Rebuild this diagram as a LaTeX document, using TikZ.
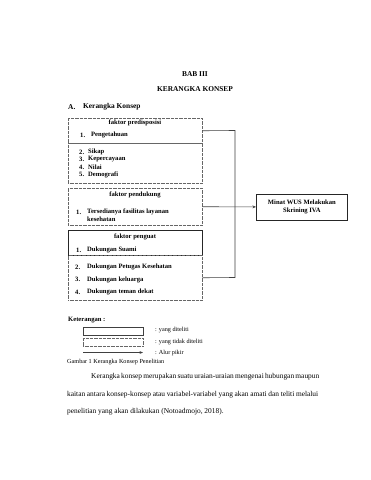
\documentclass[tikz,border=0pt]{standalone}
\usepackage{fontspec}
\setmainfont{Liberation Serif}
\usetikzlibrary{arrows.meta}
\tikzset{
  dbox/.style={draw=black!60, line width=0.5pt, dash pattern=on 0.7pt off 0.6pt, minimum width=134pt, anchor=north west, inner sep=0pt},
  sbox/.style={draw=black!85, line width=1.1pt, minimum width=134pt, anchor=north west, inner sep=0pt},
  tbox/.style={draw=black!85, line width=0.8pt, anchor=north west, inner sep=0pt},
  conn/.style={draw=black!75, line width=0.6pt},
  btxt/.style={font=\fontsize{6.6}{7.5}\selectfont\bfseries, inner sep=0pt},
  lt/.style={btxt, anchor=west},
  body/.style={font=\fontsize{7.4}{9}\selectfont, inner sep=0pt, anchor=west},
  small/.style={font=\fontsize{6.2}{7.5}\selectfont, inner sep=0pt, anchor=west},
}
\begin{document}
\begin{tikzpicture}[x=1pt,y=-1pt]
\useasboundingbox[fill=white] (0,0) rectangle (371,480);
% titles
\node[font=\fontsize{7.4}{9}\selectfont\bfseries, inner sep=0pt] (bab) at (195,74) {BAB III};
\node[font=\fontsize{7.4}{9}\selectfont\bfseries, inner sep=0pt] (kk) at (195,89) {KERANGKA KONSEP};
\node[body, font=\fontsize{7.4}{9}\selectfont\bfseries] (A) at (68,107) {A.};
\node[body, font=\fontsize{7.4}{9}\selectfont\bfseries] (Akk) at (83,107) {Kerangka Konsep};
% box 1
\node[dbox, minimum height=25pt] (b1a) at (68,118) {};
\node[dbox, minimum height=40pt] (b1b) at (68,143) {};
\node[btxt] (h1) at (135,123) {faktor predisposisi};
\node[lt] (n11) at (80,135) {1.};
\node[lt] (t11) at (91,135) {Pengetahuan};
\node[lt] (n12) at (79,152) {2.};
\node[lt] (t12) at (88,152) {Sikap};
\node[lt] (n13) at (79,159.5) {3.};
\node[lt] (t13) at (88,159.5) {Kepercayaan};
\node[lt] (n14) at (79,167) {4.};
\node[lt] (t14) at (88,167) {Nilai};
\node[lt] (n15) at (79,174.5) {5.};
\node[lt] (t15) at (88,174.5) {Demografi};
% box 2
\node[dbox, minimum height=37pt] (b2) at (68,188) {};
\node[btxt] (h2) at (135,195) {faktor pendukung};
\node[lt] (n21) at (76,212) {1.};
\node[lt] (t21) at (87,212) {Tersedianya fasilitas layanan};
\node[lt] (t21b) at (87,219.5) {kesehatan};
% box 3
\node[sbox, minimum height=25pt] (b3a) at (68,230) {};
\node[dbox, minimum height=45pt] (b3b) at (68,255) {};
\node[btxt] (h3) at (135,237) {faktor penguat};
\node[lt] (n31) at (76,250) {1.};
\node[lt] (t31) at (87,250) {Dukungan Suami};
\node[lt] (n32) at (75,267) {2.};
\node[lt] (t32) at (87,267) {Dukungan Petugas Kesehatan};
\node[lt] (n33) at (75,279.5) {3.};
\node[lt] (t33) at (87,279.5) {Dukungan keluarga};
\node[lt] (n34) at (75,292) {4.};
\node[lt] (t34) at (87,292) {Dukungan teman dekat};
% target
\node[tbox, minimum width=91pt, minimum height=26pt] (tg) at (256,193.5) {};
\node[btxt, align=center] (tgt) at (tg.center) {Minat WUS Melakukan\\Skrining IVA};
% connectors
\coordinate (j1) at (235,130.5);
\coordinate (j3) at (235,277.5);
\draw[conn] (b1a.east) -- (j1) -- (j3) -- (b3b.east);
\draw[conn, -{Stealth[length=3.5pt,width=2.8pt]}] (b2.east) -- (tg.west);
% legend
\node[body, font=\fontsize{6.6}{8}\selectfont\bfseries] (ket) at (68,320) {Keterangan :};
\node[tbox, draw=black!75, line width=0.6pt, minimum width=60pt, minimum height=8pt] (l1) at (83,327) {};
\node[dbox, minimum width=60pt, minimum height=8pt] (l2) at (83,338) {};
\coordinate (la) at (83,352.5);
\coordinate (lb) at (143,352.5);
\draw[conn, -{Stealth[length=3.5pt,width=2.8pt]}] (la) -- (lb);
\node[small] (k1) at (155,330) {: yang diteliti};
\node[small] (k2) at (155,342.5) {: yang tidak diteliti};
\node[small] (k3) at (155,353) {: Alur pikir};
\node[small] (cap) at (67,362.5) {Gambar 1 Kerangka Konsep Penelitian};
% paragraph
\node[body] (p1) at (91,377) {\makebox[227pt][s]{Kerangka konsep merupakan suatu uraian-uraian mengenai hubungan maupun}};
\node[body] (p2) at (67,394.5) {\makebox[251pt][s]{kaitan antara konsep-konsep atau variabel-variabel yang akan amati dan teliti melalui}};
\node[body] (p3) at (67,412) {penelitian yang akan dilakukan (Notoadmojo, 2018).};
\end{tikzpicture}
\end{document}
